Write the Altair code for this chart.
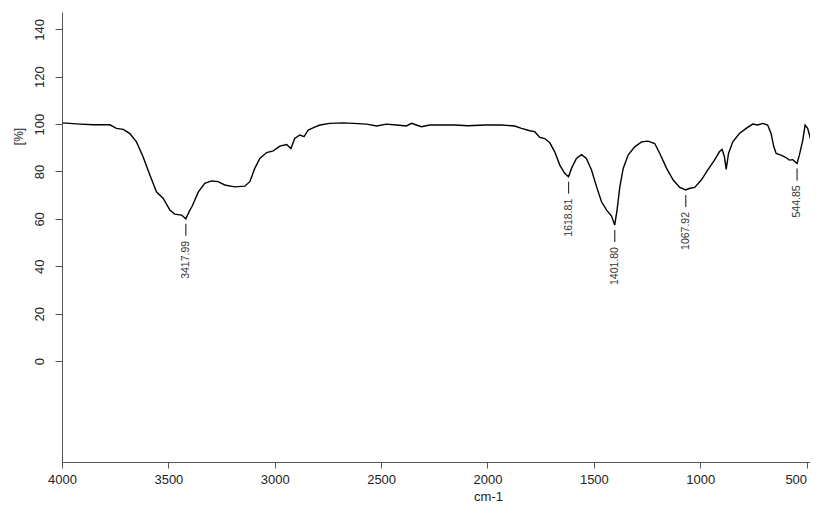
import altair as alt
import pandas as pd

# FTIR spectrum (wavenumber cm-1, transmittance %)
wavenumber = [3997, 3916, 3853, 3775, 3744, 3712, 3681, 3650, 3619, 3587, 3556, 3524, 3493,
              3470, 3438, 3418, 3399, 3390, 3359, 3329, 3297, 3266, 3235, 3188, 3141, 3117,
              3094, 3070, 3038, 3007, 2976, 2944, 2924, 2906, 2882, 2862, 2843, 2815, 2788,
              2741, 2678, 2631, 2568, 2521, 2475, 2428, 2381, 2357, 2334, 2310, 2271, 2227,
              2154, 2091, 2013, 1934, 1872, 1840, 1801, 1778, 1754, 1731, 1707, 1684, 1660,
              1637, 1619, 1605, 1582, 1558, 1535, 1511, 1487, 1464, 1440, 1417, 1402, 1391,
              1378, 1362, 1339, 1308, 1276, 1245, 1214, 1190, 1158, 1127, 1096, 1068, 1052,
              1026, 995, 965, 933, 910, 897, 886, 878, 867, 847, 816, 784, 753, 729, 706, 683,
              667, 654, 643, 620, 597, 581, 565, 545, 534, 518, 507, 495, 482, 467, 449]
transmittance = [100.5, 100.0, 99.7, 99.7, 98.2, 97.8, 96.0, 92.5, 86.2, 78.5, 71.4, 68.6, 63.7,
                 62.0, 61.6, 60.0, 63.7, 65.0, 71.4, 75.0, 76.0, 75.7, 74.3, 73.5, 73.8, 75.7,
                 81.3, 85.5, 88.0, 88.7, 90.7, 91.4, 89.7, 93.9, 95.4, 94.7, 97.5, 98.6, 99.6,
                 100.3, 100.5, 100.3, 100.0, 99.2, 100.0, 99.6, 99.2, 100.3, 99.6, 98.9, 99.6, 99.6,
                 99.6, 99.3, 99.6, 99.6, 99.2, 98.2, 97.2, 96.8, 94.4, 93.9, 92.1, 88.3, 82.7,
                 79.2, 77.8, 81.3, 85.5, 87.1, 85.5, 80.6, 73.5, 67.2, 63.7, 61.2, 57.4, 63.7,
                 73.5, 81.3, 86.9, 90.4, 92.5, 92.8, 91.8, 87.6, 81.3, 76.4, 73.3, 72.2, 72.8,
                 73.3, 76.4, 80.6, 84.8, 88.3, 89.3, 86.2, 80.9, 87.6, 92.5, 96.0, 98.2, 100.0, 99.6, 100.3, 99.6,
                 96.0, 90.4, 87.6, 86.9, 85.9, 84.8, 85.0, 83.4, 86.9, 93.2, 99.6, 98.2, 93.9, 93.2, 94.7]

peak_wn = [3417.99, 1618.81, 1401.80, 1067.92, 544.85]
peak_t = [60.0, 77.8, 57.4, 72.2, 83.4]
peak_label = ["3417.99", "1618.81", "1401.80", "1067.92", "544.85"]

x_ticks = [500, 1000, 1500, 2000, 2500, 3000, 3500, 4000]
y_ticks = [0, 20, 40, 60, 80, 100, 120, 140]

spec = pd.DataFrame({"wn": wavenumber, "t": transmittance})
peaks = pd.DataFrame({"wn": peak_wn, "t": peak_t, "label": peak_label})

font = "Liberation Sans"
xscale = alt.Scale(domain=[484, 4000], reverse=True, nice=False, zero=False)
yscale = alt.Scale(domain=[-42.6, 147.3], nice=False, zero=False)

xaxis = alt.Axis(values=x_ticks, format="d", grid=False, tickSize=6, labelFontSize=13,
                 labelFont=font, labelColor="#222", labelPadding=5, domainColor="#555",
                 tickColor="#555", labelFlush=False, labelOverlap=False,
                 labelAlign={"condition": {"test": "datum.value <= 500", "value": "right"},
                             "value": "center"},
                 title="cm-1",
                 titleFont=font, titleFontSize=13, titleFontWeight="normal", titleColor="#222",
                 titleX=426, titleY=34, titleAnchor="start", titleAlign="center",
                 titleBaseline="middle")
yaxis = alt.Axis(values=y_ticks, format="d", grid=False, tickSize=7, labelFontSize=13,
                 labelFont=font, labelColor="#222", labelAngle=270, labelAlign="center",
                 labelBaseline="bottom", labelPadding=9, domainColor="#555", tickColor="#555",
                 title="[%]", titleFont=font, titleFontSize=12, titleFontWeight="normal",
                 titleColor="#222", titleX=-44, titleY=124, titleAngle=270, titleAlign="center",
                 titleBaseline="middle", labelOverlap=False)

line = alt.Chart(spec).mark_line(color="black", strokeWidth=1.4, interpolate="linear",
                                 clip=True).encode(
    x=alt.X("wn:Q", scale=xscale, axis=xaxis),
    y=alt.Y("t:Q", scale=yscale, axis=yaxis),
    order=alt.Order("wn:Q", sort="descending"),
)

ticks = alt.Chart(peaks).mark_rule(color="#333", strokeWidth=1.2, yOffset=5, y2Offset=17).encode(
    x=alt.X("wn:Q", scale=xscale),
    y=alt.Y("t:Q", scale=yscale),
    y2="t:Q",
)

labels = alt.Chart(peaks).mark_text(angle=270, align="right", baseline="middle", yOffset=22,
                                    fontSize=10.5, font=font, color="#333").encode(
    x=alt.X("wn:Q", scale=xscale),
    y=alt.Y("t:Q", scale=yscale),
    text="label:N",
)

chart = alt.layer(line, ticks, labels).properties(
    width=748, height=450,
    autosize=alt.AutoSizeParams(type="none"),
    padding={"left": 54, "top": 4, "right": 0, "bottom": 40},
).configure_view(stroke=None)

chart.save("out.html", embed_options={"renderer": "svg", "actions": False})
